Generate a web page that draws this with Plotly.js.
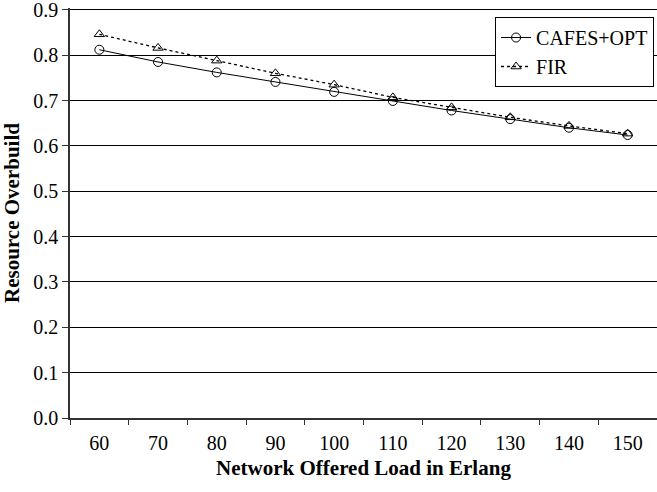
<!DOCTYPE html>
<html>
<head>
<meta charset="utf-8">
<script src="https://cdn.plot.ly/plotly-3.0.1.min.js"></script>
<style>html,body{margin:0;padding:0;background:#fff;}#chart{width:657px;height:492px;}</style>
</head>
<body>
<div id="chart"></div>
<script>
const loads = ["60","70","80","90","100","110","120","130","140","150"];
const cafesOpt = [0.812,0.785,0.762,0.741,0.719,0.699,0.678,0.659,0.640,0.624];
const fir = [0.846,0.816,0.788,0.760,0.735,0.707,0.685,0.663,0.644,0.627];
const yTicks = [0,0.1,0.2,0.3,0.4,0.5,0.6,0.7,0.8,0.9];

const serif = "Liberation Serif, Times New Roman, serif";
const traces = [
  {x: loads, y: cafesOpt, name: "CAFES+OPT", type: "scatter", mode: "lines+markers",
   line: {color: "#000", width: 1}, marker: {symbol: "circle-open", size: 9, color: "#000", line: {width: 1}}},
  {x: loads, y: fir, name: "FIR", type: "scatter", mode: "lines+markers",
   line: {color: "#000", width: 1.3, dash: "dot"}, marker: {symbol: "triangle-up-open", size: 9, color: "#000", line: {width: 1}}}
];
const layout = {
  width: 657, height: 492,
  margin: {l: 70, r: 0, t: 8, b: 74},
  paper_bgcolor: "#fff", plot_bgcolor: "#fff",
  font: {family: serif, size: 20, color: "#000"},
  showlegend: true,
  legend: {x: 0.995, xanchor: "right", y: 0.978, yanchor: "top", bordercolor: "#000", borderwidth: 1,
           bgcolor: "#fff", font: {family: serif, size: 20, color: "#000"}, tracegroupgap: 0,
           itemwidth: 30},
  xaxis: {type: "category", range: [-0.5, 9.5], tickson: "boundaries", ticks: "outside", ticklen: 5,
          tickcolor: "#333", showgrid: false, showline: true, linecolor: "#333", linewidth: 1.5,
          tickfont: {family: serif, size: 20}, zeroline: false, ticklabelstandoff: 6,
          title: {text: "<b>Network Offered Load in Erlang</b>", font: {family: serif, size: 21}, standoff: 8}},
  yaxis: {range: [0, 0.904], tickmode: "array", tickvals: yTicks, tickformat: ".1f", ticks: "outside", ticklen: 6, tickcolor: "#333",
          showgrid: true, gridcolor: "#000", gridwidth: 1, showline: true, linecolor: "#333", linewidth: 1.5,
          zeroline: false, tickfont: {family: serif, size: 20}, ticklabeloverflow: "allow",
          title: {text: "<b>Resource Overbuild</b>", font: {family: serif, size: 21}, standoff: 8}}
};
Plotly.newPlot("chart", traces, layout, {displayModeBar: false});
</script>
</body>
</html>
